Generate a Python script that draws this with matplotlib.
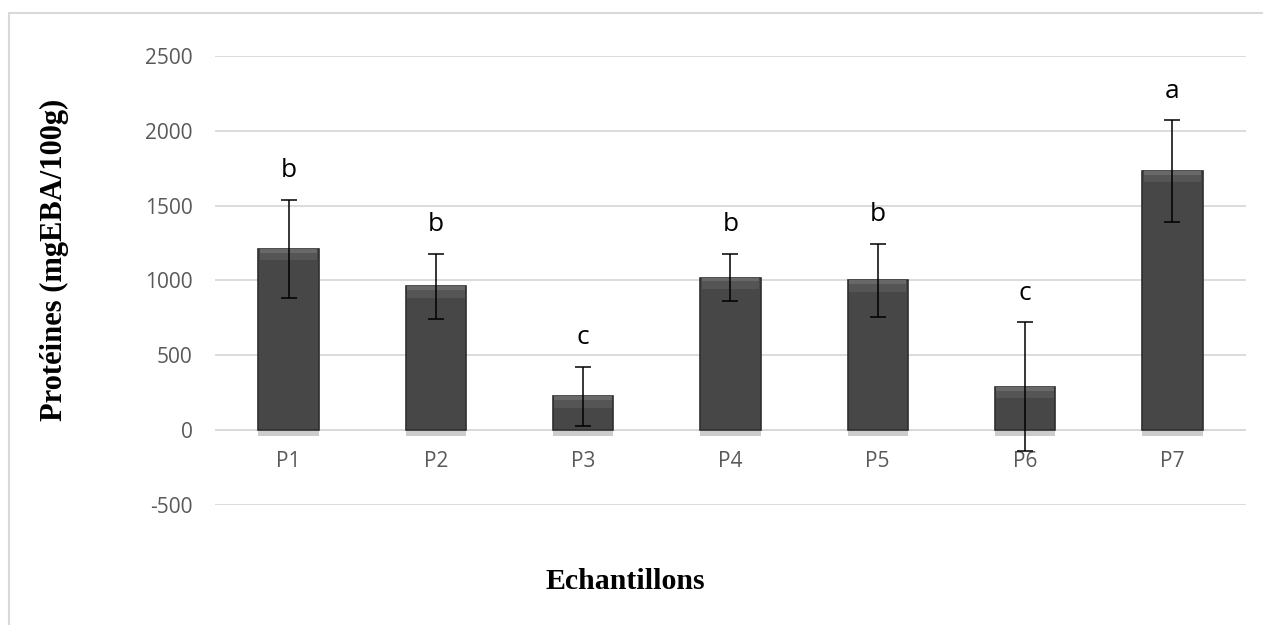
import matplotlib.pyplot as plt
import matplotlib.patheffects as pe
from matplotlib.patches import Rectangle
import numpy as np

plt.rcParams['axes.unicode_minus'] = False

# data
samples = ['P1', 'P2', 'P3', 'P4', 'P5', 'P6', 'P7']
proteins = [1210, 960, 225, 1020, 1000, 290, 1730]
errors = [330, 220, 197, 160, 243, 430, 340]
letters = ['b', 'b', 'c', 'b', 'b', 'c', 'a']
yticks = [-500, 0, 500, 1000, 1500, 2000, 2500]

fig = plt.figure(figsize=(12.63, 6.25), dpi=100)
ax = fig.add_axes([0.1702, 0.192, 0.8163, 0.7184])

# outer chart frame (Excel style)
fig.patches.append(Rectangle((9 / 1263, -0.05), 1.1, 1 - 13 / 625 + 0.05,
                             transform=fig.transFigure, fill=False,
                             edgecolor='#d9d9d9', linewidth=1.5))

x = np.arange(len(samples))
shadow = [pe.SimplePatchShadow(offset=(0, -4), shadow_rgbFace='#9a9a9a', alpha=0.5), pe.Normal()]
bars = ax.bar(x, proteins, width=0.41, color='#474747', edgecolor='#2f2f2f',
              linewidth=1.2, zorder=3)
for b in bars:
    b.set_path_effects(shadow)

# soft bevel at the top of each bar
bev = 75
ax.bar(x, bev, bottom=[p - bev for p in proteins], width=0.39,
       color='#555555', linewidth=0, zorder=4)
ax.bar(x, 25, bottom=[p - 25 for p in proteins], width=0.39,
       color='#686868', linewidth=0, zorder=4)

ax.errorbar(x, proteins, yerr=errors, fmt='none', ecolor='black',
            elinewidth=1.1, capsize=5.5, capthick=1.1, zorder=5)

for xi, p, e, l in zip(x, proteins, errors, letters):
    ax.annotate(l, (xi, p + e), xytext=(0, 21), textcoords='offset points',
                ha='center', va='center', fontsize=19, family='Open Sans', color='black')

ax.set_xlim(-0.5, len(samples) - 0.5)
ax.set_ylim(-500, 2500)
ax.set_yticks(yticks)
ax.set_xticks(x)
ax.set_xticklabels(samples)
ax.grid(axis='y', color='#d9d9d9', linewidth=1.3, zorder=0)
ax.axhline(0, color='#d9d9d9', linewidth=1.3, zorder=1)
ax.spines['bottom'].set_position(('data', 0))
for s in ax.spines.values():
    s.set_visible(False)
ax.tick_params(length=0, labelcolor='#595959')
ax.tick_params(axis='x', labelsize=15, pad=15)
ax.tick_params(axis='y', labelsize=15, pad=16)
for t in ax.get_xticklabels() + ax.get_yticklabels():
    t.set_family('Open Sans')

fig.text(0.0435, 0.584, 'Protéines (mgEBA/100g)', rotation=90, ha='center', va='center',
         fontsize=22, fontweight='bold', family='Liberation Serif')
fig.text(0.495, 0.069, 'Echantillons', ha='center', va='center',
         fontsize=21.5, fontweight='bold', family='Liberation Serif')

fig.savefig('out.png', dpi=100)
